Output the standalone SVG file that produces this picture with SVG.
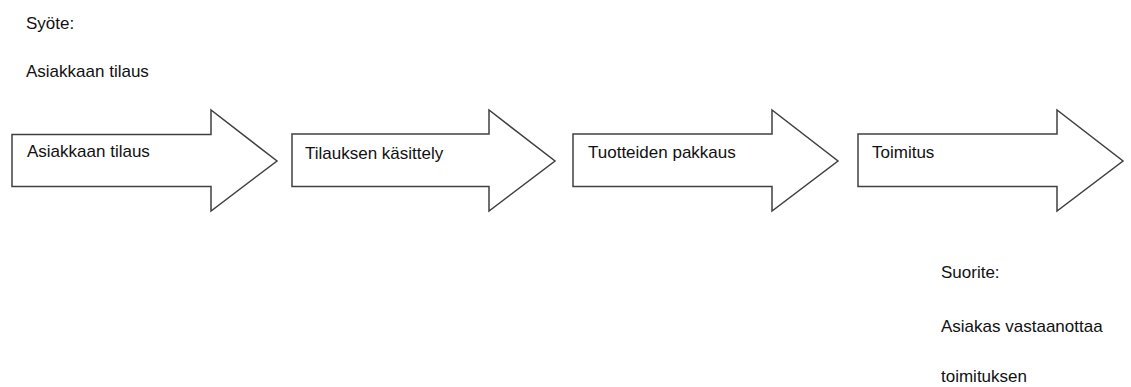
<svg xmlns="http://www.w3.org/2000/svg" width="1131" height="387" viewBox="0 0 1131 387">
<style>
.arrow{fill:#fff;stroke:#404040;stroke-width:1.5;stroke-linejoin:miter}
text{font-family:"Liberation Sans",Arial,sans-serif;font-size:17px;fill:#111}
</style>
<rect width="1131" height="387" fill="#fff"/>
<g id="input">
<text x="26" y="29">Syöte:</text>
<text x="26" y="77">Asiakkaan tilaus</text>
</g>
<g id="step1">
<path class="arrow" d="M12,134.5 H211 V110 L277,161 L211,211 V186.5 H12 Z"/>
<text x="27" y="157">Asiakkaan tilaus</text>
</g>
<g id="step2">
<path class="arrow" d="M292,134 H489 V110 L555,161 L489,211 V186.5 H292 Z"/>
<text x="305" y="159">Tilauksen käsittely</text>
</g>
<g id="step3">
<path class="arrow" d="M573,134 H772 V110 L838,161 L772,211 V186.5 H573 Z"/>
<text x="588" y="158">Tuotteiden pakkaus</text>
</g>
<g id="step4">
<path class="arrow" d="M858,134 H1057 V110 L1123,161 L1057,211 V186.5 H858 Z"/>
<text x="872" y="158">Toimitus</text>
</g>
<g id="output">
<text x="941" y="278">Suorite:</text>
<text x="941" y="332">Asiakas vastaanottaa</text>
<text x="941" y="382">toimituksen</text>
</g>
<g id="connectors"></g>
</svg>
